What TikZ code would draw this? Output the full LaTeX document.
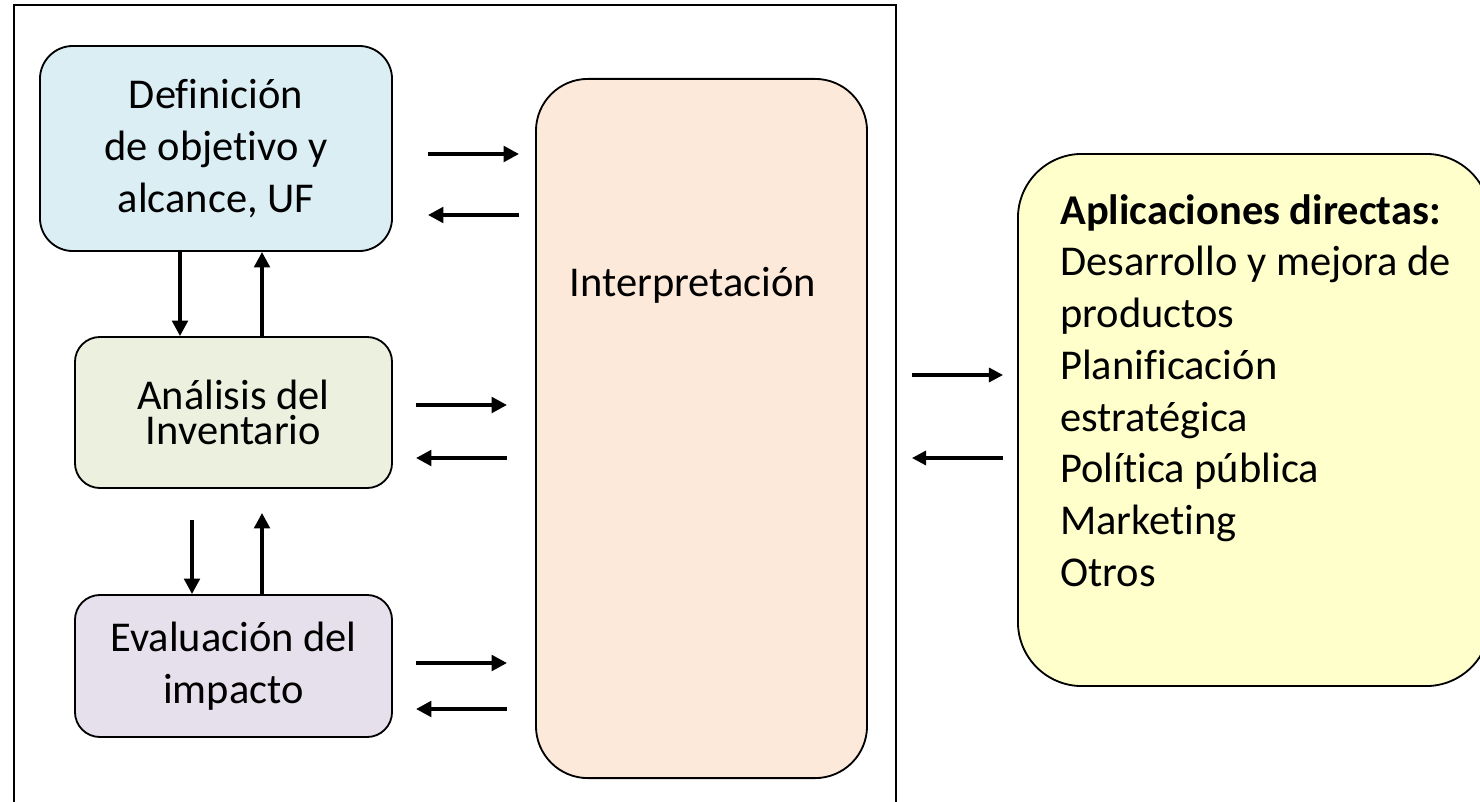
\documentclass[tikz,border=0pt]{standalone}
\usepackage{fontspec}
\setmainfont{Carlito}[Ligatures=NoCommon]
\usetikzlibrary{arrows.meta}

\definecolor{azul}{HTML}{DAEEF3}
\definecolor{verde}{HTML}{EBF1DE}
\definecolor{lila}{HTML}{E5E0EC}
\definecolor{salmon}{HTML}{FDE9D9}
\definecolor{amarillo}{HTML}{FFFFCC}

\begin{document}
\begin{tikzpicture}[x=0.025cm, y=-0.025cm, font=\fontsize{30.2}{36.8}\selectfont,
 caja/.style={draw, line width=1.3pt, inner sep=0pt, align=center},
 flecha/.style={line width=2.9pt, -{Triangle[length=11pt,width=11pt]}},
 flechav/.style={line width=2.6pt, -{Triangle[length=11pt,width=11pt]}},
 flechad/.style={line width=2.2pt, -{Triangle[length=10pt,width=10pt]}}]
 \useasboundingbox (0,0) rectangle (1480,802);
 \clip (0,0) rectangle (1480,802);
 % marco
 \draw[line width=1.6pt] (14,802) -- (14,5) -- (896,5) -- (896,802);
 % fases
 \node[caja, fill=azul, rounded corners=0.825cm, minimum width=8.8cm, minimum height=5.125cm] (def) at (216,148.5) {Definición\\de objetivo y\\alcance, UF};
 \node[caja, fill=verde, rounded corners=0.625cm, minimum width=7.925cm, minimum height=3.775cm, font=\fontsize{30.2}{24.5}\selectfont] (inv) at (233.5,412.5) {Análisis del\\Inventario};
 \node[caja, fill=lila, rounded corners=0.625cm, minimum width=7.925cm, minimum height=3.55cm] (eva) at (233.5,666) {Evaluación del\\impacto};
 \node[caja, fill=salmon, rounded corners=1.3cm, minimum width=8.275cm, minimum height=17.475cm] (interp) at (701.5,428.5) {};
 \node (interpt) at (693,285) {Interpretación};
 \node[caja, fill=amarillo, rounded corners=1.6cm, minimum width=11.8cm, minimum height=13.3cm] (apl) at (1254,420) {};
 \node[anchor=north west, inner sep=0pt, align=left] (usos) at (1060,194) {\textbf{Aplicaciones directas:}\\Desarrollo y mejora de\\productos\\Planificación\\estratégica\\Política pública\\Marketing\\Otros};
 % flechas verticales
 \draw[flechav] (def.south -| 180,0) -- (inv.north -| 180,0);
 \draw[flechav] (inv.north -| 262,0) -- (def.south -| 262,0);
 \draw[flechav, shorten <=0.775cm] (inv.south -| 192,0) -- (eva.north -| 192,0);
 \draw[flechav, shorten >=0.6cm] (eva.north -| 262,0) -- (inv.south -| 262,0);
 % flechas hacia la interpretacion
 \foreach \caja/\ya/\yb/\sa/\sb in {def/154/215/0.875cm/0.4cm, inv/405/458/0.575cm/0.7cm, eva/663/709/0.575cm/0.7cm}{
 \draw[flecha, shorten <=\sa, shorten >=\sb] (\caja.east |- 0,\ya) -- (interp.west |- 0,\ya);
 \draw[flecha, shorten <=\sb, shorten >=\sa] (interp.west |- 0,\yb) -- (\caja.east |- 0,\yb);}
 \draw[flechad, shorten <=1.1cm, shorten >=0.35cm] (interp.east |- 0,375) -- (apl.west |- 0,375);
 \draw[flechad, shorten <=0.35cm, shorten >=1.1cm] (apl.west |- 0,458) -- (interp.east |- 0,458);
\end{tikzpicture}
\end{document}
